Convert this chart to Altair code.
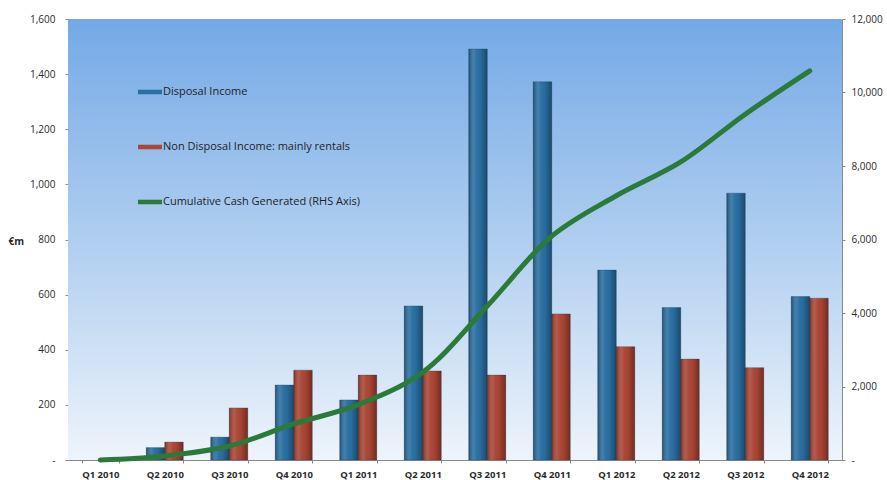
import altair as alt
import pandas as pd

quarters = ["Q1 2010", "Q2 2010", "Q3 2010", "Q4 2010",
            "Q1 2011", "Q2 2011", "Q3 2011", "Q4 2011",
            "Q1 2012", "Q2 2012", "Q3 2012", "Q4 2012"]
disposal_income = [0, 45, 83, 272, 218, 559, 1491, 1372, 689, 553, 968, 593]
non_disposal_income = [0, 65, 189, 326, 308, 323, 308, 530, 411, 366, 335, 587]
cumulative_cash = [0, 110, 380, 980, 1505, 2390, 4190, 6090, 7190, 8110, 9410, 10590]

series_names = ["Disposal Income",
                "Non Disposal Income: mainly rentals",
                "Cumulative Cash Generated (RHS Axis)"]
series_colors = ["#2a70a4", "#ad4636", "#2b7a3a"]

W, H = 774, 441
FONT = "Open Sans"

bars_df = pd.DataFrame({
    "quarter": quarters * 2,
    "series": [series_names[0]] * len(quarters) + [series_names[1]] * len(quarters),
    "value": disposal_income + non_disposal_income,
})
bars_df = bars_df[bars_df["value"] > 0]
line_df = pd.DataFrame({"quarter": quarters, "cash": cumulative_cash})

x_enc = alt.X("quarter:N", sort=quarters, title=None,
              scale=alt.Scale(domain=quarters, paddingInner=0.426, paddingOuter=0.213),
              axis=alt.Axis(labelFont=FONT, labelFontSize=9.5, labelFontWeight="bold",
                            labelColor="#2a2a2a", labelAngle=0, labelPadding=6,
                            tickBand="extent", tickSize=3, tickColor="#888",
                            domainColor="#8a8a8a", grid=False))
x_off = alt.XOffset("series:N", sort=series_names[:2],
                    scale=alt.Scale(domain=series_names[:2], paddingInner=0, paddingOuter=0))
y_left = alt.Scale(domain=[0, 1600], nice=False)

# sky-blue gradient behind the plot area
background = alt.Chart(pd.DataFrame({"k": [0]})).mark_rect(
    color=alt.LinearGradient(
        gradient="linear", x1=0, x2=0, y1=0, y2=1,
        stops=[alt.GradientStop(offset=0, color="#74a9e6"),
               alt.GradientStop(offset=0.45, color="#a9caef"),
               alt.GradientStop(offset=1, color="#eef4fb")]),
).encode(x=alt.value(0), x2=alt.value(W), y=alt.value(0), y2=alt.value(H))

bars = alt.Chart(bars_df).mark_bar(strokeWidth=0.6, stroke="#1d3347", strokeOpacity=0.5).encode(
    x=x_enc,
    xOffset=x_off,
    y=alt.Y("value:Q", scale=y_left, title="€m",
            axis=alt.Axis(orient="left", values=list(range(0, 1601, 200)),
                          labelExpr="datum.value == 0 ? '-' : format(datum.value, ',')",
                          labelFont=FONT, labelFontSize=10, labelColor="#2a2a2a",
                          labelPadding=10, tickSize=3, tickColor="#888",
                          domainColor="#8a8a8a", grid=False,
                          titleAngle=0, titleFont=FONT, titleFontSize=10,
                          titleFontWeight="bold", titleColor="#2a2a2a",
                          titleAlign="left", titleBaseline="middle",
                          titleX=-60, titleY=222)),
    color=alt.Color("series:N",
                    scale=alt.Scale(domain=series_names, range=series_colors),
                    legend=alt.Legend(
                        title=None, orient="none", legendX=70, legendY=61,
                        symbolType="M-1,-0.19L1,-0.19L1,0.19L-1,0.19Z",
                        symbolSize=576, symbolStrokeWidth=0, symbolOpacity=1,
                        labelFont=FONT, labelFontSize=11, labelColor="#1e1e1e",
                        labelOffset=1, rowPadding=38, labelLimit=400)),
)

# cylindrical shading laid over each bar
shade = alt.Chart(bars_df).mark_bar(
    color=alt.LinearGradient(
        gradient="linear", x1=0, x2=1, y1=0, y2=0,
        stops=[alt.GradientStop(offset=0, color="rgba(0,0,0,0.32)"),
               alt.GradientStop(offset=0.3, color="rgba(255,255,255,0.10)"),
               alt.GradientStop(offset=0.6, color="rgba(0,0,0,0.02)"),
               alt.GradientStop(offset=1, color="rgba(0,0,0,0.34)")]),
).encode(
    x=x_enc,
    xOffset=x_off,
    y=alt.Y("value:Q", scale=y_left, axis=None),
)

line = alt.Chart(line_df).mark_line(
    color=series_colors[2], strokeWidth=5, interpolate="catmull-rom", strokeCap="round"
).encode(
    x=x_enc,
    y=alt.Y("cash:Q", scale=alt.Scale(domain=[0, 12000], nice=False), title=None,
            axis=alt.Axis(orient="right", values=list(range(0, 12001, 2000)),
                          labelExpr="datum.value == 0 ? '-' : format(datum.value, ',')",
                          labelFont=FONT, labelFontSize=10, labelColor="#2a2a2a",
                          labelPadding=6, tickSize=3, tickColor="#888",
                          domainColor="#8a8a8a", grid=False)),
)

chart = alt.layer(background, bars, shade, line).resolve_scale(
    y="independent"
).properties(
    width=W, height=H,
    autosize=alt.AutoSizeParams(type="none"),
    padding={"left": 68, "top": 19, "right": 45, "bottom": 20},
    background="white",
).configure_view(stroke=None)

chart.save("out.html", embed_options={"renderer": "svg", "actions": False})
